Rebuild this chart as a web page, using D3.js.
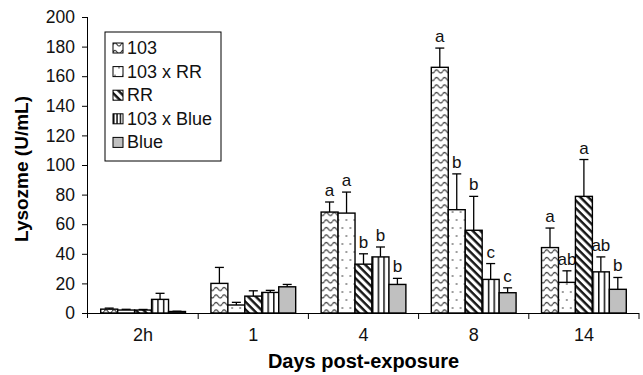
<!DOCTYPE html>
<html>
<head>
<meta charset="utf-8">
<script src="https://cdn.jsdelivr.net/npm/d3@7"></script>
<style>
  body { margin: 0; background: #fff; }
  svg { font-family: 'Liberation Sans', Arial, sans-serif; }
</style>
</head>
<body>
<div id="chart"></div>
<script>
const days = ['2h', '1', '4', '8', '14'];
const groups = ['103', '103 x RR', 'RR', '103 x Blue', 'Blue'];

// mean lysozyme per group, one array per day
const mean2h = [2.6, 2.0, 2.0, 9.2, 1.0];
const mean1 = [20, 5.4, 11.4, 13.9, 17.7];
const mean4 = [68.2, 67.5, 33, 37.9, 19.3];
const mean8 = [166, 69.8, 55.9, 22.7, 13.7];
const mean14 = [44.2, 20.7, 78.8, 27.8, 16];

// upper end of error bars
const err2h = [3.3, 2.5, 2.4, 13.3, 1.2];
const err1 = [30.8, 7.2, 15, 15.3, 19.3];
const err4 = [75, 81.7, 40, 44.6, 23.4];
const err8 = [179, 94, 78.8, 33.4, 17];
const err14 = [57.4, 28.5, 103.7, 37.9, 24];

// significance letters
const letters2h = ['', '', '', '', ''];
const letters1 = ['', '', '', '', ''];
const letters4 = ['a', 'a', 'b', 'b', 'b'];
const letters8 = ['a', 'b', 'b', 'c', 'c'];
const letters14 = ['a', 'ab', 'a', 'ab', 'b'];

const yTicks = [0, 20, 40, 60, 80, 100, 120, 140, 160, 180, 200];

const means = [mean2h, mean1, mean4, mean8, mean14];
const errs = [err2h, err1, err4, err8, err14];
const letters = [letters2h, letters1, letters4, letters8, letters14];

const width = 643;
const height = 375;
const margin = { top: 17, right: 4, bottom: 62, left: 88 };

const svg = d3
  .select('#chart')
  .append('svg')
  .attr('width', width)
  .attr('height', height);

// patterns
const defs = svg.append('defs');

const wave = defs
  .append('pattern')
  .attr('id', 'p-wave')
  .attr('patternUnits', 'userSpaceOnUse')
  .attr('width', 8)
  .attr('height', 7.5);
wave.append('rect').attr('width', 8).attr('height', 7.5).attr('fill', '#fff');
wave
  .append('path')
  .attr('d', 'M0,4 C1.5,1.8 2.5,1.8 4,4 C5.5,6.2 6.5,6.2 8,4')
  .attr('fill', 'none')
  .attr('stroke', '#111')
  .attr('stroke-width', 1);

const dots = defs
  .append('pattern')
  .attr('id', 'p-dots')
  .attr('patternUnits', 'userSpaceOnUse')
  .attr('width', 8)
  .attr('height', 16);
dots.append('rect').attr('width', 8).attr('height', 16).attr('fill', '#fff');
dots.append('circle').attr('cx', 2).attr('cy', 4).attr('r', 0.8).attr('fill', '#222');
dots.append('circle').attr('cx', 6).attr('cy', 12).attr('r', 0.8).attr('fill', '#222');

const diag = defs
  .append('pattern')
  .attr('id', 'p-diag')
  .attr('patternUnits', 'userSpaceOnUse')
  .attr('width', 5.5)
  .attr('height', 5.5)
  .attr('patternTransform', 'rotate(-45)');
diag.append('rect').attr('width', 5.5).attr('height', 5.5).attr('fill', '#fff');
diag
  .append('line')
  .attr('x1', 1.5).attr('y1', 0).attr('x2', 1.5).attr('y2', 5.5)
  .attr('stroke', '#111')
  .attr('stroke-width', 2.4);

const vert = defs
  .append('pattern')
  .attr('id', 'p-vert')
  .attr('patternUnits', 'objectBoundingBox')
  .attr('width', 1 / 3)
  .attr('height', 1);
vert.append('rect').attr('width', 40).attr('height', 400).attr('fill', '#fff');
vert
  .append('line')
  .attr('x1', 0).attr('y1', 0).attr('x2', 0).attr('y2', 400)
  .attr('stroke', '#111')
  .attr('stroke-width', 3);

const fills = ['url(#p-wave)', 'url(#p-dots)', 'url(#p-diag)', 'url(#p-vert)', '#c0c0c0'];

// scales
const x0 = d3
  .scaleBand()
  .domain(days)
  .range([margin.left, width - margin.right]);

const x1 = d3
  .scaleBand()
  .domain(groups)
  .range([0, x0.bandwidth()])
  .paddingOuter(0.75);

const y = d3
  .scaleLinear()
  .domain([0, 200])
  .range([height - margin.bottom, margin.top]);

// bars
const dayG = svg
  .selectAll('.day')
  .data(days)
  .enter()
  .append('g')
  .attr('class', 'day')
  .attr('transform', d => `translate(${x0(d)},0)`);

const bars = dayG
  .selectAll('.bar')
  .data((d, i) =>
    groups.map((g, j) => ({
      group: g,
      j,
      mean: means[i][j],
      err: errs[i][j],
      letter: letters[i][j]
    }))
  )
  .enter()
  .append('g')
  .attr('class', 'bar');

// error bars (drawn first, bar covers the lower part)
bars
  .append('line')
  .attr('x1', d => x1(d.group) + x1.bandwidth() / 2)
  .attr('x2', d => x1(d.group) + x1.bandwidth() / 2)
  .attr('y1', d => y(d.mean))
  .attr('y2', d => y(d.err))
  .attr('stroke', '#000')
  .attr('stroke-width', 1.3);

bars
  .append('line')
  .attr('x1', d => x1(d.group) + x1.bandwidth() / 2 - 4.5)
  .attr('x2', d => x1(d.group) + x1.bandwidth() / 2 + 4.5)
  .attr('y1', d => y(d.err))
  .attr('y2', d => y(d.err))
  .attr('stroke', '#000')
  .attr('stroke-width', 1.3);

bars
  .append('rect')
  .attr('x', d => x1(d.group))
  .attr('y', d => y(d.mean))
  .attr('width', x1.bandwidth())
  .attr('height', d => y(0) - y(d.mean))
  .attr('fill', d => fills[d.j])
  .attr('stroke', '#000')
  .attr('stroke-width', 1.4);

bars
  .append('text')
  .attr('x', d => x1(d.group) + x1.bandwidth() / 2)
  .attr('y', d => y(d.err) - 6)
  .attr('text-anchor', 'middle')
  .attr('font-size', 17)
  .attr('fill', '#111')
  .text(d => d.letter);

// axes
const yAxis = d3
  .axisLeft(y)
  .tickValues(yTicks)
  .tickSize(6)
  .tickPadding(7);

svg
  .append('g')
  .attr('transform', `translate(${margin.left},0)`)
  .call(yAxis)
  .call(g => g.select('.domain').attr('d', `M-0.5,${y(200)}V${y(0) + 5}`))
  .call(g => g.selectAll('text').attr('font-size', 17.5).attr('fill', '#111'))
  .call(g => g.selectAll('line, path').attr('stroke', '#000'));

const xAxis = d3.axisBottom(x0).tickSize(0).tickPadding(15);

svg
  .append('g')
  .attr('transform', `translate(0,${y(0)})`)
  .call(xAxis)
  .call(g => g.select('.domain').attr('d', `M${margin.left - 6},0.5H${width - margin.right}`))
  .call(g => g.selectAll('text').attr('font-size', 18).attr('fill', '#111'))
  .call(g => g.selectAll('path').attr('stroke', '#000'));

// category boundary ticks
svg
  .append('g')
  .selectAll('line')
  .data(days)
  .enter()
  .append('line')
  .attr('x1', d => x0(d) + x0.bandwidth())
  .attr('x2', d => x0(d) + x0.bandwidth())
  .attr('y1', y(0))
  .attr('y2', y(0) + 6)
  .attr('stroke', '#000');

// axis titles
svg
  .append('text')
  .attr('x', (margin.left + width - margin.right) / 2)
  .attr('y', 368)
  .attr('text-anchor', 'middle')
  .attr('font-size', 20)
  .attr('font-weight', 'bold')
  .text('Days post-exposure');

svg
  .append('text')
  .attr('transform', `translate(28,169) rotate(-90)`)
  .attr('text-anchor', 'middle')
  .attr('font-size', 19)
  .attr('font-weight', 'bold')
  .text('Lysozme (U/mL)');

// legend
const legend = svg.append('g').attr('transform', 'translate(105,32)');

legend
  .append('rect')
  .attr('width', 116)
  .attr('height', 129)
  .attr('fill', '#fff')
  .attr('stroke', '#000')
  .attr('stroke-width', 1);

const item = legend
  .selectAll('.item')
  .data(groups)
  .enter()
  .append('g')
  .attr('class', 'item')
  .attr('transform', (d, i) => `translate(8,${16 + i * 23.6})`);

item
  .append('rect')
  .attr('x', 0)
  .attr('y', -5)
  .attr('width', 10)
  .attr('height', 10)
  .attr('fill', (d, i) => fills[i])
  .attr('stroke', '#000')
  .attr('stroke-width', 1);

item
  .append('text')
  .attr('x', 14)
  .attr('y', 6)
  .attr('font-size', 18)
  .attr('fill', '#111')
  .text(d => d);
</script>
</body>
</html>
